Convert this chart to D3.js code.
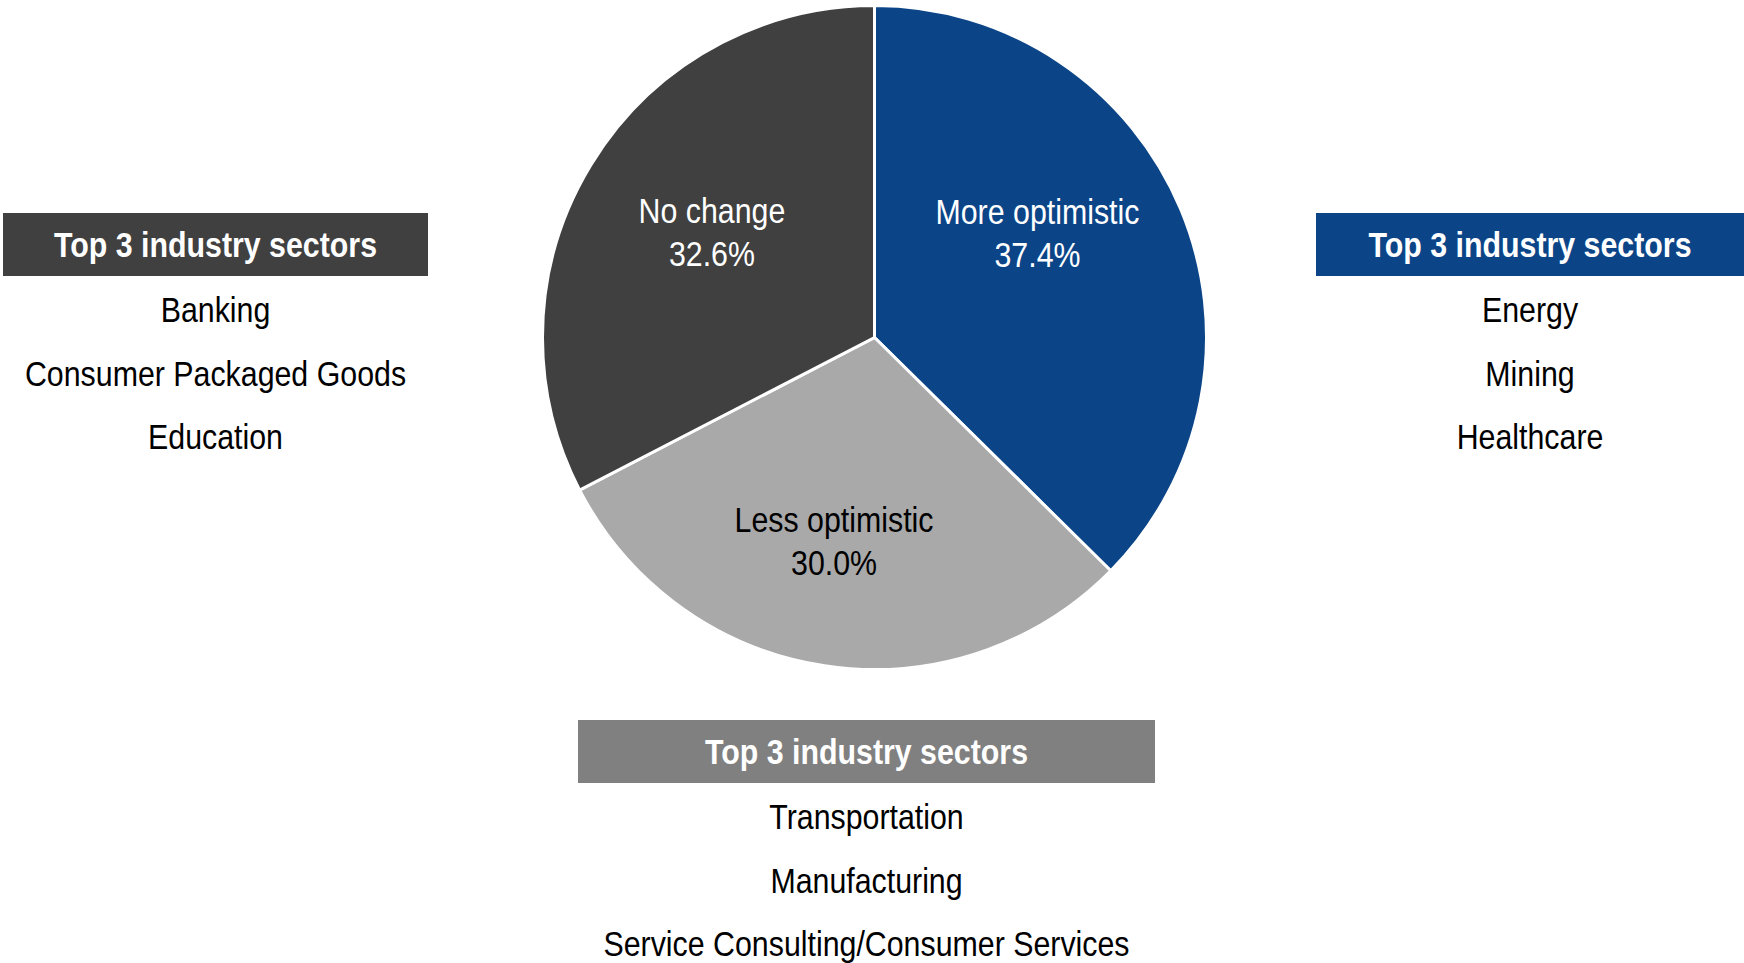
<!DOCTYPE html>
<html>
<head>
<meta charset="utf-8">
<script src="https://cdn.jsdelivr.net/npm/d3@7"></script>
<style>
  html, body { margin: 0; padding: 0; background: #ffffff; }
  svg { display: block; }
  text { font-family: "Liberation Sans", Arial, sans-serif; }
</style>
</head>
<body>
<svg id="chart" width="1744" height="963"></svg>
<script>
// Outlook categories and their share of respondents (%)
const categories = ["More optimistic", "Less optimistic", "No change"];
const shares = [37.4, 30.0, 32.6];

// Top industry sectors reported for each outlook
const moreOptimisticSectors = ["Energy", "Mining", "Healthcare"];
const lessOptimisticSectors = ["Transportation", "Manufacturing", "Service Consulting/Consumer Services"];
const noChangeSectors = ["Banking", "Consumer Packaged Goods", "Education"];
const panelTitle = "Top 3 industry sectors";

// Styling
const sliceColors = ["#0b4588", "#a9a9a9", "#404040"];
const labelColors = ["#ffffff", "#000000", "#ffffff"];
const panelColors = ["#0b4588", "#808080", "#404040"];

// Condensed look: horizontally squeeze the sans-serif face
const NARROW = 0.843;
const FONT_SIZE = 36;

const svg = d3.select("#chart");

const cx = 874.5, cy = 337.5, R = 332;

const slices = categories.map((c, i) => ({ name: c, value: shares[i] }));

const pie = d3.pie()
  .value(d => d.value)
  .sort(null)
  .startAngle(0)
  .endAngle(2 * Math.PI);

const arc = d3.arc().innerRadius(0).outerRadius(R);

const arcs = pie(slices);

const g = svg.append("g").attr("transform", `translate(${cx},${cy})`);

g.selectAll("path.slice")
  .data(arcs)
  .join("path")
  .attr("class", "slice")
  .attr("d", arc)
  .attr("fill", (d, i) => sliceColors[i])
  .attr("stroke", "#ffffff")
  .attr("stroke-width", 3)
  .attr("stroke-linejoin", "miter");

// Label placement inside each slice: angular nudge (deg) and radius fraction
const labelAngleNudge = [-7, 2, -1.4];
const labelRadiusFrac = [0.565, 0.66, 0.565];

const fmt = d3.format(".1f");

arcs.forEach((d, i) => {
  const mid = (d.startAngle + d.endAngle) / 2 + labelAngleNudge[i] * Math.PI / 180;
  const r = R * labelRadiusFrac[i];
  const x = Math.sin(mid) * r;
  const y = -Math.cos(mid) * r;
  const t = g.append("text")
    .attr("transform", `translate(${x},${y}) scale(${NARROW},1)`)
    .attr("text-anchor", "middle")
    .attr("fill", labelColors[i])
    .attr("font-size", FONT_SIZE);
  t.append("tspan").attr("x", 0).attr("dy", "-0.58em").text(d.data.name);
  t.append("tspan").attr("x", 0).attr("dy", "1.19em").text(fmt(d.data.value) + "%");
});

// Sector panels: header box + list of sectors
function sectorPanel(x0, x1, top, color, items) {
  const boxH = 63;
  const mid = (x0 + x1) / 2;
  svg.append("rect")
    .attr("x", x0).attr("y", top)
    .attr("width", x1 - x0).attr("height", boxH)
    .attr("fill", color);
  svg.append("text")
    .attr("transform", `translate(${mid},${top + 44}) scale(${NARROW},1)`)
    .attr("text-anchor", "middle")
    .attr("fill", "#ffffff")
    .attr("font-weight", "bold")
    .attr("font-size", FONT_SIZE)
    .text(panelTitle);
  svg.selectAll(null)
    .data(items)
    .enter()
    .append("text")
    .attr("transform", (d, i) => `translate(${mid},${top + 109 + i * 63.5}) scale(${NARROW},1)`)
    .attr("text-anchor", "middle")
    .attr("fill", "#000000")
    .attr("font-size", FONT_SIZE)
    .text(d => d);
}

sectorPanel(3, 428, 213, panelColors[2], noChangeSectors);
sectorPanel(1316, 1744, 213, panelColors[0], moreOptimisticSectors);
sectorPanel(578, 1155, 720, panelColors[1], lessOptimisticSectors);
</script>
</body>
</html>
